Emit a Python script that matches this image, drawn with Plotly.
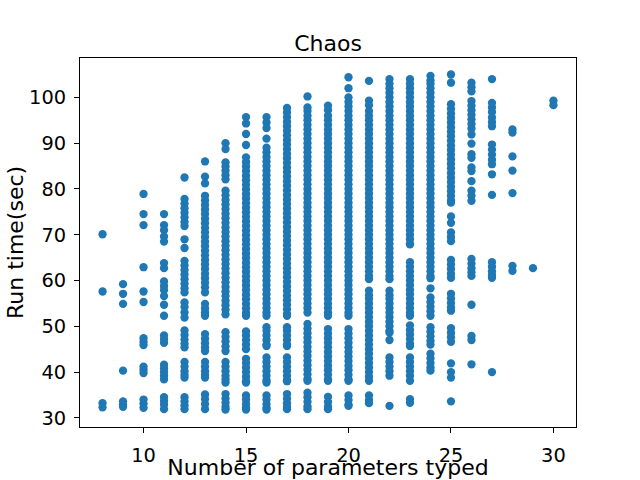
import plotly.graph_objs as go

# run times (sec) read per number of typed parameters
y8 = [70.1, 57.6, 33.2, 32.3]
y9 = [59.2, 57.1, 54.9, 40.3, 33.6, 32.9, 32.4]
y10 = [78.9, 74.5, 72.1, 62.9, 57.6, 55.3, 47.4, 46.6, 45.9, 41.2, 40.5, 39.8,
       34.0, 33.1, 32.2]
y11 = [74.5, 72.1, 71.0, 69.6, 68.5, 63.8, 62.7, 59.8, 58.8, 57.9, 56.6, 54.7,
       52.3, 48.0, 47.2, 46.4, 41.6, 40.8, 40.0, 39.2, 38.4, 34.5, 33.7, 32.9, 31.9]
y12 = [82.5, 77.8, 76.8, 75.8, 74.8, 73.8, 72.8, 71.9, 69.0, 67.1, 64.3, 63.3,
       62.3, 61.3, 60.3, 59.3, 58.3, 57.4, 55.2, 54.2, 53.0, 51.9, 49.1, 48.1,
       47.1, 46.2, 45.4, 42.2, 41.2, 40.2, 39.4, 38.8, 34.5, 33.6, 32.7, 31.9]
y13 = [86.0, 82.7, 81.2, 78.5, 77.5, 76.5, 75.5, 74.5, 73.5, 72.5, 71.5, 70.5,
       69.5, 68.5, 67.5, 66.5, 65.5, 64.5, 63.5, 62.5, 61.5, 60.5, 59.5, 58.5,
       57.4, 54.9, 53.9, 53.0, 52.3, 48.3, 47.3, 46.3, 45.4, 44.6, 42.2, 41.2,
       40.2, 39.4, 38.8, 35.1, 34.1, 33.0, 31.9]
y14 = [90.0, 88.7, 85.8, 84.9, 84.0, 83.0, 82.1, 79.6, 78.6, 77.6, 76.6, 75.6,
       74.6, 73.6, 72.6, 71.6, 70.6, 69.6, 68.6, 67.6, 66.6, 65.6, 64.6, 63.6,
       62.6, 61.6, 60.6, 59.6, 58.6, 57.6, 56.6, 55.6, 54.6, 53.6, 52.6, 48.7,
       47.7, 46.7, 45.6, 44.6, 42.2, 41.2, 40.2, 39.2, 38.4, 37.7, 35.2, 34.2,
       33.3, 32.4, 31.8]
y15 = [95.7, 94.3, 92.0, 89.6, 86.9, 85.9, 84.9, 83.9, 82.9, 81.9, 80.9, 79.9,
       78.9, 77.9, 76.9, 75.9, 74.9, 73.9, 72.9, 71.9, 70.9, 69.9, 68.9, 67.9,
       66.9, 65.9, 64.9, 63.9, 62.9, 61.9, 60.9, 59.9, 58.9, 57.9, 56.9, 55.9,
       54.9, 53.9, 52.9, 52.3, 48.9, 48.0, 47.0, 46.0, 45.0, 42.9, 42.0, 41.0,
       40.0, 39.0, 38.0, 37.7, 34.9, 34.0, 33.0, 32.2, 31.8]
y16 = [95.7, 94.5, 93.3, 91.0, 89.0, 88.0, 87.0, 86.0, 85.0, 84.0, 83.0, 82.0,
       81.0, 80.0, 79.0, 78.0, 77.0, 76.0, 75.0, 74.0, 73.0, 72.0, 71.0, 70.0,
       69.0, 68.0, 67.0, 66.0, 65.0, 64.0, 63.0, 62.0, 61.0, 60.0, 59.0, 58.0,
       57.0, 56.0, 55.0, 54.0, 53.0, 52.3, 49.8, 49.0, 48.0, 47.0, 46.0, 45.7,
       43.2, 42.2, 41.2, 40.2, 39.2, 38.2, 37.7, 34.9, 34.0, 33.0, 32.2, 31.8]
y17 = [97.7, 96.7, 95.7, 94.7, 93.7, 92.7, 91.7, 90.7, 89.7, 88.7, 87.7, 86.7,
       85.7, 84.7, 83.7, 82.7, 81.7, 80.7, 79.7, 78.7, 77.7, 76.7, 75.7, 74.7,
       73.7, 72.7, 71.7, 70.7, 69.7, 68.7, 67.7, 66.7, 65.7, 64.7, 63.7, 62.7,
       61.7, 60.7, 59.7, 58.7, 57.7, 56.7, 55.7, 54.7, 53.7, 52.7, 52.3, 49.8,
       49.0, 48.0, 47.0, 46.0, 45.7, 43.2, 42.2, 41.2, 40.2, 39.2, 38.2, 38.0,
       35.2, 34.2, 33.2, 32.4, 31.9]
y18 = [100.2, 97.8, 97, 96, 95, 94, 93, 92, 91, 90, 89, 88, 87, 86, 85, 84, 83,
       82, 81, 80, 79, 78, 77, 76, 75, 74, 73, 72, 71, 70, 69, 68, 67, 66, 65,
       64, 63, 62, 61, 60, 59, 58, 57, 56, 55, 54, 53, 50.5, 49.5, 48.5, 47.5,
       46.5, 45.5, 44.5, 43.5, 42.5, 41.5, 40.5, 39.5, 38.5, 38.1, 35.5, 34.5,
       33.5, 32.5, 31.9]
y19 = [98.2, 97.2, 96, 95, 94, 93, 92, 91, 90, 89, 88, 87, 86, 85, 84, 83, 82,
       81, 80, 79, 78, 77, 76, 75, 74, 73, 72, 71, 70, 69, 68, 67, 66, 65, 64,
       63, 62, 61, 60, 59, 58, 57, 56, 55, 54, 53, 52.3, 49.4, 48.4, 47.4, 46.4,
       45.4, 44.4, 43.4, 42.4, 41.4, 40.4, 39.4, 38.4, 38.1, 34.6, 33.5, 32.5,
       31.9]
y20 = [104.4, 102, 100, 99, 98, 97, 96, 95, 94, 93, 92, 91, 90, 89, 88, 87, 86,
       85, 84, 83, 82, 81, 80, 79, 78, 77, 76, 75, 74, 73, 72, 71, 70, 69, 68,
       67, 66, 65, 64, 63, 62, 61, 60, 59, 58, 57, 56, 55, 54, 53, 52.3, 49.4,
       48.4, 47.4, 46.4, 45.4, 44.4, 43.4, 42.4, 41.4, 40.4, 39.4, 38.4, 38.1,
       34.9, 33.9, 32.9, 32.6]
y21 = [103.6, 99.3, 98.3, 97, 96, 95, 94, 93, 92, 91, 90, 89, 88, 87, 86, 85,
       84, 83, 82, 81, 80, 79, 78, 77, 76, 75, 74, 73, 72, 71, 70, 69, 68, 67,
       66, 65, 64, 63, 62, 61, 60.3, 57.8, 56.8, 56, 55, 54, 53, 52, 51, 50, 49,
       48, 47, 46, 45, 44, 43, 42, 41, 40, 39, 38.1, 34.9, 33.9, 33.2]
y22 = [104, 103, 102, 101, 100, 99, 98, 97, 96, 95, 94, 93, 92, 91, 90, 89, 88,
       87, 86, 85, 84, 83, 82, 81, 80, 79, 78, 77, 76, 75, 74, 73, 72, 71, 70,
       69, 68, 67, 66, 65, 64, 63, 62, 61, 60.3, 57.8, 56.8, 56, 55, 54, 53, 52,
       51, 50, 49, 48.6, 47, 43.2, 42.2, 41.2, 40.2, 39.2, 32.6]
y23 = [104, 103, 102, 101, 100, 99, 98, 97, 96, 95, 94, 93, 92, 91, 90, 89, 88,
       87, 86, 85, 84, 83, 82, 81, 80, 79, 78, 77, 76, 75, 74, 73, 72, 71, 70,
       69, 68, 67.9, 64, 63, 62, 61, 60, 59, 58, 57, 56, 55, 54, 53, 52.3, 50.2,
       49.2, 48.2, 47.2, 46.2, 45.7, 43.2, 42.2, 41.2, 40.2, 39.2, 38.1, 34.1,
       33.3]
y24 = [104.7, 103.7, 103, 102, 101, 100, 99, 98, 97, 96, 95, 94, 93, 92, 91, 90,
       89, 88, 87, 86, 85, 84, 83, 82, 81, 80, 79, 78, 77, 76, 75, 74, 73, 72, 71,
       70, 69, 68, 67, 66, 65, 64, 63, 62, 61, 60.5, 58.3, 56.3, 55.3, 54.3,
       53.3, 52.3, 49.8, 48.8, 47.8, 46.8, 46.0, 44.0, 43.0, 42.0, 41.0, 40.3]
y25 = [105.0, 103.2, 98.5, 97.5, 96.5, 95.5, 94.5, 93.5, 92.5, 91.5, 90.5, 89.5,
       88.5, 87.5, 86.5, 85.5, 84.5, 83.5, 82.5, 81.5, 80.5, 79.5, 78.5, 77.5,
       77.0, 74.0, 72.6, 70.5, 69.5, 68.6, 64.5, 63.5, 62.5, 61.5, 60.6, 57.1,
       56.1, 55.1, 54.1, 53.4, 49.6, 48.6, 47.6, 46.6, 41.9, 40.0, 38.8, 33.6]
y26 = [103.2, 102.2, 101.3, 99.2, 98.2, 97.2, 96.2, 95.2, 94.2, 93.2, 91.9, 89.9,
       87.6, 86.8, 84.7, 83.9, 81.7, 79.6, 78.5, 77.4, 64.7, 63.7, 62.7, 61.8,
       61.0, 54.7, 47.9, 47.0, 41.7]
y27 = [104.0, 98.8, 97.8, 96.8, 95.6, 94.6, 93.7, 89.7, 88.6, 87.5, 86.4, 85.4,
       83.2, 78.7, 64.0, 63.0, 62.0, 61.2, 60.6, 40.0]
y28 = [93.0, 92.3, 87.1, 84.0, 79.1, 63.2, 62.1]
y29 = [62.7]
y30 = [99.3, 98.3]

params = list(range(8, 31))
runs = [y8, y9, y10, y11, y12, y13, y14, y15, y16, y17, y18, y19, y20, y21,
        y22, y23, y24, y25, y26, y27, y28, y29, y30]

xs = []
ys = []
for p, vals in zip(params, runs):
    xs += [p] * len(vals)
    ys += vals

font = "DejaVu Sans, Arial, sans-serif"

trace = go.Scatter(x=xs, y=ys, mode="markers",
                   marker=dict(color="#1f77b4", size=8.3, line=dict(width=0)),
                   hoverinfo="x+y")

layout = go.Layout(
    width=640, height=480,
    margin=dict(l=80, r=64, t=58, b=53),
    paper_bgcolor="white", plot_bgcolor="white",
    showlegend=False,
    font=dict(family=font, color="black"),
    title=dict(text="Chaos", x=0.5, xanchor="center", xref="paper",
               y=1 - 51 / 480, yanchor="bottom", yref="container",
               font=dict(size=22, family=font)),
    xaxis=dict(range=[6.9, 31.1], tickvals=[10, 15, 20, 25, 30],
               ticks="outside", ticklen=5, tickwidth=1, tickcolor="black",
               showline=True, linecolor="black", linewidth=1, mirror=True,
               showgrid=False, zeroline=False, automargin=False,
               ticklabelstandoff=6,
               tickfont=dict(size=19.4, family=font),
               title=dict(text="Number of parameters typed", standoff=15,
                          font=dict(size=22, family=font))),
    yaxis=dict(range=[28.0, 108.6], tickvals=[30, 40, 50, 60, 70, 80, 90, 100],
               ticks="outside", ticklen=5, tickwidth=1, tickcolor="black",
               showline=True, linecolor="black", linewidth=1, mirror=True,
               showgrid=False, zeroline=False, automargin=False,
               ticklabelstandoff=4,
               tickfont=dict(size=19.4, family=font)),
    # y label as an annotation so it can sit exactly where the reference has it
    annotations=[dict(text="Run time(sec)", textangle=-90, showarrow=False,
                      xref="paper", yref="paper", x=-0.13, y=0.5,
                      xanchor="center", yanchor="middle",
                      font=dict(size=22, family=font))],
)

fig = go.Figure(data=[trace], layout=layout)
# drop the page's default body margin so the figure sits at the corner
fig.write_html("out.html", config={"displayModeBar": False},
               post_script="document.body.style.margin = '0';")
